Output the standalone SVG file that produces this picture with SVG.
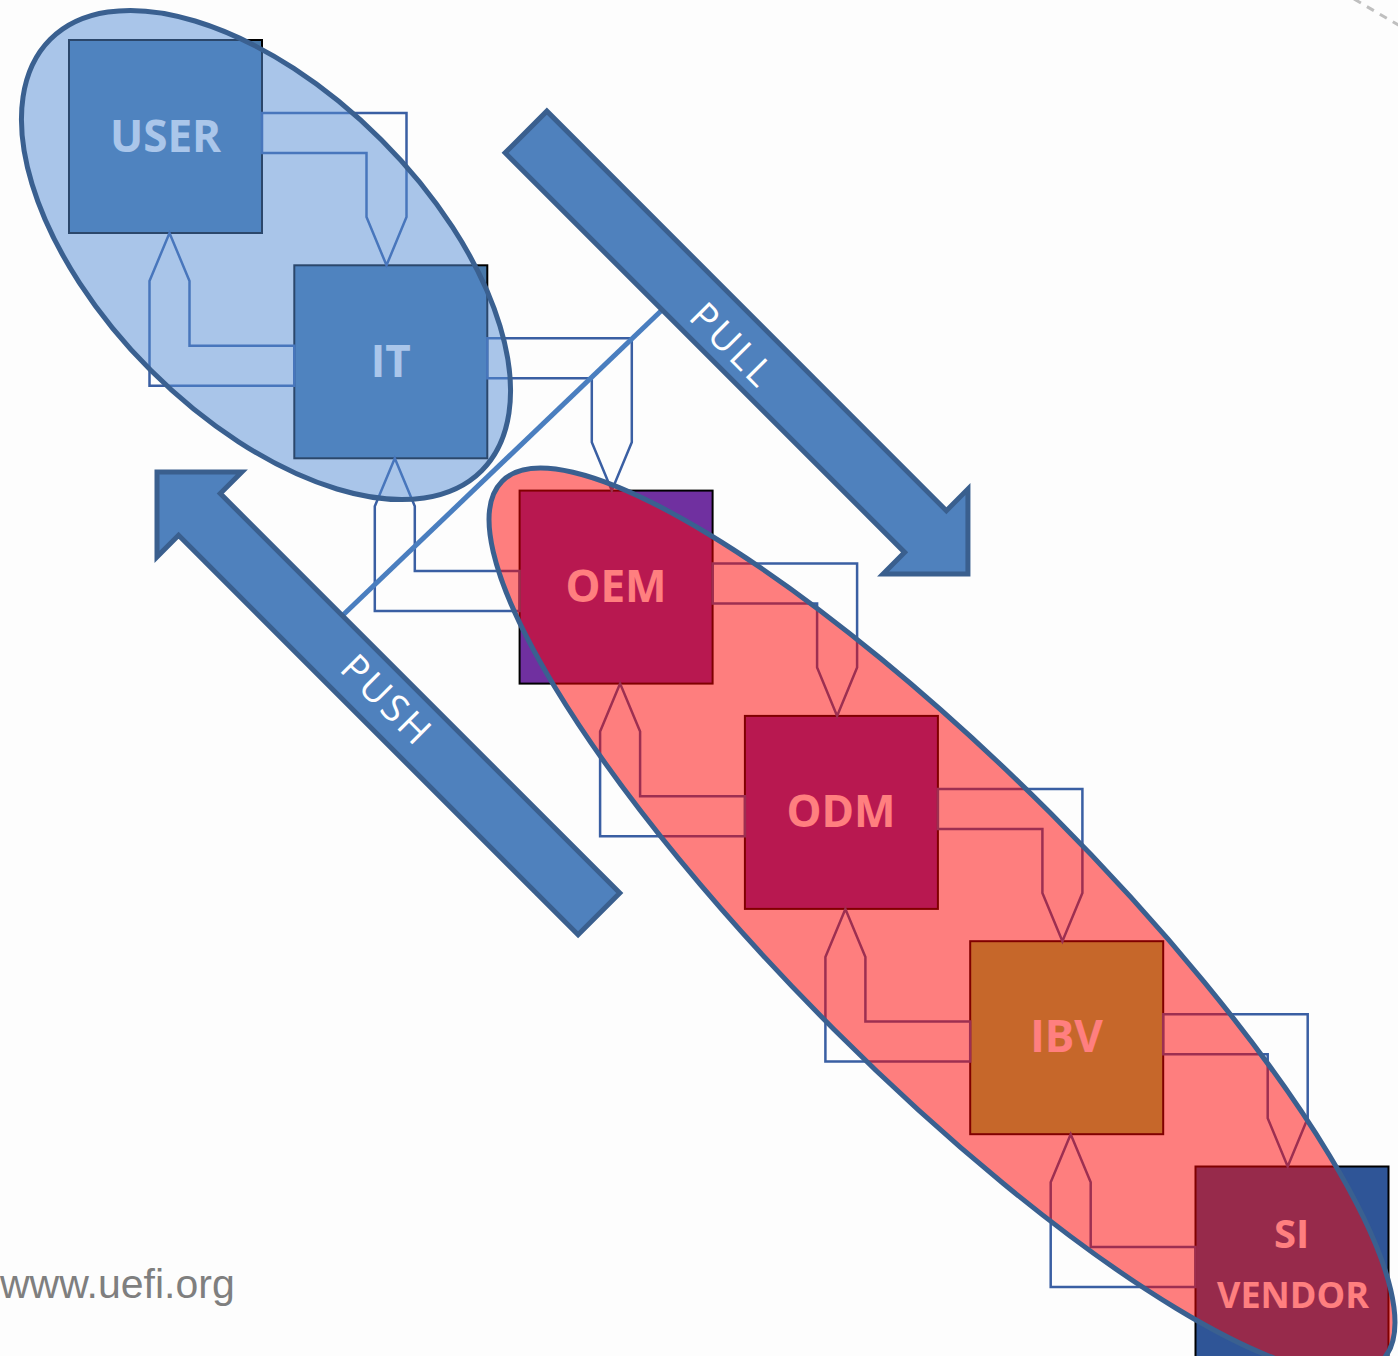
<svg xmlns="http://www.w3.org/2000/svg" xmlns:xlink="http://www.w3.org/1999/xlink" width="1398" height="1356" viewBox="0 0 1398 1356">
  <style>
    .box { stroke: #000000; stroke-width: 2; }
    .lbl { font-family: "Open Sans", "Liberation Sans", sans-serif; font-weight: bold; fill: #FFFFFF; text-anchor: middle; }
    .conn { fill: none; stroke: #3A5FA3; stroke-width: 2.5; stroke-linejoin: miter; }
    .grp { stroke: #3A6090; stroke-width: 5; }
    .big { fill: #4F81BD; stroke: #3A5F8E; stroke-width: 5; stroke-linejoin: miter; }
    .bigtxt { font-family: "Open Sans", "Liberation Sans", sans-serif; font-size: 38px; fill: #FFFFFF; text-anchor: middle; letter-spacing: 3px; }
  </style>
  <defs>
    <path id="fwd" d="M262,113 H406.5 V217 L386.5,265.3 L366.5,217 V153 H262 Z"/>
    <path id="bwd" d="M294.3,345.7 H189.5 V281 L169.5,233 L149.5,281 V385.7 H294.3 Z"/>
    <polygon id="bigArrowPull" points="0,-29.5 565,-29.5 565,-60 625,0 565,60 565,29.5 0,29.5"/>
    <polygon id="bigArrowPush" points="0,0 60,-60 60,-29.5 625,-29.5 625,29.5 60,29.5 60,60"/>
  </defs>
  <rect x="0" y="0" width="1398" height="1356" fill="#FDFDFD"/>

  <g id="node-user">
    <rect class="box" x="69" y="40" width="193" height="193" fill="#4878A9"/>
    <text class="lbl" x="165.5" y="152" font-size="44">USER</text>
  </g>
  <g id="node-it">
    <rect class="box" x="294.3" y="265.3" width="193" height="193" fill="#4878A9"/>
    <text class="lbl" x="390.8" y="377" font-size="44">IT</text>
  </g>
  <g id="node-oem">
    <rect class="box" x="519.6" y="490.6" width="193" height="193" fill="#7030A0"/>
    <text class="lbl" x="616" y="602" font-size="44">OEM</text>
  </g>
  <g id="node-odm">
    <rect class="box" x="744.9" y="715.9" width="193" height="193" fill="#7030A0"/>
    <text class="lbl" x="841" y="827" font-size="44">ODM</text>
  </g>
  <g id="node-ibv">
    <rect class="box" x="970.2" y="941.2" width="193" height="193" fill="#8CCE54"/>
    <text class="lbl" x="1066.5" y="1052" font-size="44">IBV</text>
  </g>
  <g id="node-si-vendor">
    <rect class="box" x="1195.5" y="1166.5" width="193" height="200" fill="#2F5597"/>
    <text class="lbl" x="1291.7" y="1248" font-size="40">SI</text>
    <text class="lbl" x="1293" y="1308" font-size="36">VENDOR</text>
  </g>

  <g id="connectors">
    <use xlink:href="#fwd" class="conn"/>
    <use xlink:href="#bwd" class="conn"/>
    <use xlink:href="#fwd" class="conn" transform="translate(225.3,225.3)"/>
    <use xlink:href="#bwd" class="conn" transform="translate(225.3,225.3)"/>
    <use xlink:href="#fwd" class="conn" transform="translate(450.6,450.6)"/>
    <use xlink:href="#bwd" class="conn" transform="translate(450.6,450.6)"/>
    <use xlink:href="#fwd" class="conn" transform="translate(675.9,675.9)"/>
    <use xlink:href="#bwd" class="conn" transform="translate(675.9,675.9)"/>
    <use xlink:href="#fwd" class="conn" transform="translate(901.2,901.2)"/>
    <use xlink:href="#bwd" class="conn" transform="translate(901.2,901.2)"/>
  </g>

  <g id="group-customer">
    <ellipse class="grp" cx="0" cy="0" rx="305" ry="163" fill="rgba(85,142,213,0.5)" transform="translate(266,255) rotate(45)"/>
  </g>
  <g id="group-supply">
    <ellipse class="grp" cx="0" cy="0" rx="622" ry="153" fill="rgba(255,0,0,0.5)" transform="translate(942,921) rotate(45)"/>
  </g>

  <g id="divider">
    <line x1="662" y1="310" x2="343" y2="615" stroke="#4A7EBF" stroke-width="5"/>
  </g>

  <g id="arrow-pull" transform="translate(526,132) rotate(45)">
    <use xlink:href="#bigArrowPull" class="big"/>
    <text class="bigtxt" x="297" y="18">PULL</text>
  </g>
  <g id="arrow-push" transform="translate(157,472) rotate(45)">
    <use xlink:href="#bigArrowPush" class="big"/>
    <text class="bigtxt" x="324" y="12">PUSH</text>
  </g>

  <line x1="1354" y1="-1" x2="1400" y2="26" stroke="#BFBFBF" stroke-width="3" stroke-dasharray="8 7"/>
  <text x="0" y="1298" font-family="'Liberation Sans', Arial, sans-serif" font-size="41" fill="#7F7F7F">www.uefi.org</text>
</svg>
